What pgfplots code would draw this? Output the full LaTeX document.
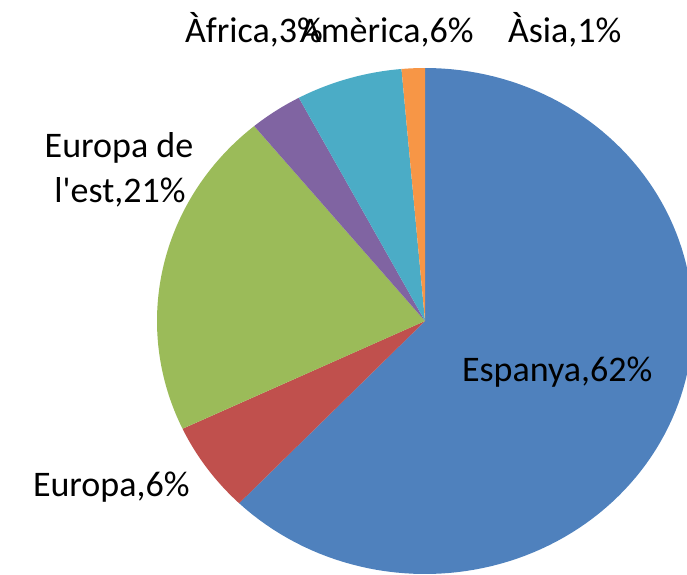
\documentclass[border=0pt]{standalone}
\usepackage{pgfplots}
\pgfplotsset{compat=1.18}
\usepackage{fontspec}
\setmainfont{Carlito}
\definecolor{cEsp}{HTML}{4F81BD}
\definecolor{cEur}{HTML}{C0504D}
\definecolor{cEst}{HTML}{9BBB59}
\definecolor{cAfr}{HTML}{8064A2}
\definecolor{cAme}{HTML}{4BACC6}
\definecolor{cAsi}{HTML}{F79646}
% shares (percent), clockwise from the top
\def\vEsp{62.2}\def\vEur{5.8}\def\vEst{21.0}\def\vAfr{3.2}\def\vAme{6.4}\def\vAsi{1.4}
\begin{document}
\begin{tikzpicture}
\pgfmathsetmacro{\aA}{90}
\pgfmathsetmacro{\aB}{\aA-3.6*\vEsp}
\pgfmathsetmacro{\aC}{\aB-3.6*\vEur}
\pgfmathsetmacro{\aD}{\aC-3.6*\vEst}
\pgfmathsetmacro{\aE}{\aD-3.6*\vAfr}
\pgfmathsetmacro{\aF}{\aE-3.6*\vAme}
\pgfmathsetmacro{\aG}{\aF-3.6*\vAsi}
\begin{axis}[
  at={(0pt,0pt)}, anchor=south west,
  scale only axis, width=687pt, height=574pt,
  xmin=0, xmax=687, ymin=0, ymax=574,
  hide axis, clip=true,
  every axis plot/.append style={draw=none, samples=120, variable=\t},
]
\addplot[fill=cEsp, domain=\aB:\aA] ({425+268*cos(\t)},{253+253*sin(\t)}) -- (axis cs:425,253) -- cycle;
\addplot[fill=cEur, domain=\aC:\aB] ({425+268*cos(\t)},{253+253*sin(\t)}) -- (axis cs:425,253) -- cycle;
\addplot[fill=cEst, domain=\aD:\aC] ({425+268*cos(\t)},{253+253*sin(\t)}) -- (axis cs:425,253) -- cycle;
\addplot[fill=cAfr, domain=\aE:\aD] ({425+268*cos(\t)},{253+253*sin(\t)}) -- (axis cs:425,253) -- cycle;
\addplot[fill=cAme, domain=\aF:\aE] ({425+268*cos(\t)},{253+253*sin(\t)}) -- (axis cs:425,253) -- cycle;
\addplot[fill=cAsi, domain=\aG:\aF] ({425+268*cos(\t)},{253+253*sin(\t)}) -- (axis cs:425,253) -- cycle;
\end{axis}
\begin{scope}[every node/.style={inner sep=0pt, outer sep=0pt, font=\fontsize{36}{45}\selectfont}]
\node[anchor=base west] at (185pt,531pt) {Àfrica,3\%};
\node[anchor=base west] at (300pt,531pt) {Amèrica,6\%};
\node[anchor=base west] at (508pt,531pt) {Àsia,1\%};
\node[anchor=base] at (119pt,417pt) {Europa de};
\node[anchor=base] at (120pt,372pt) {l\textquotesingle est,21\%};
\node[anchor=base west] at (33pt,78pt) {Europa,6\%};
\node[anchor=base west] at (462pt,193pt) {Espanya,62\%};
\end{scope}
\pgfresetboundingbox
\useasboundingbox (0pt,0pt) rectangle (687pt,574pt);
\end{tikzpicture}
\end{document}
